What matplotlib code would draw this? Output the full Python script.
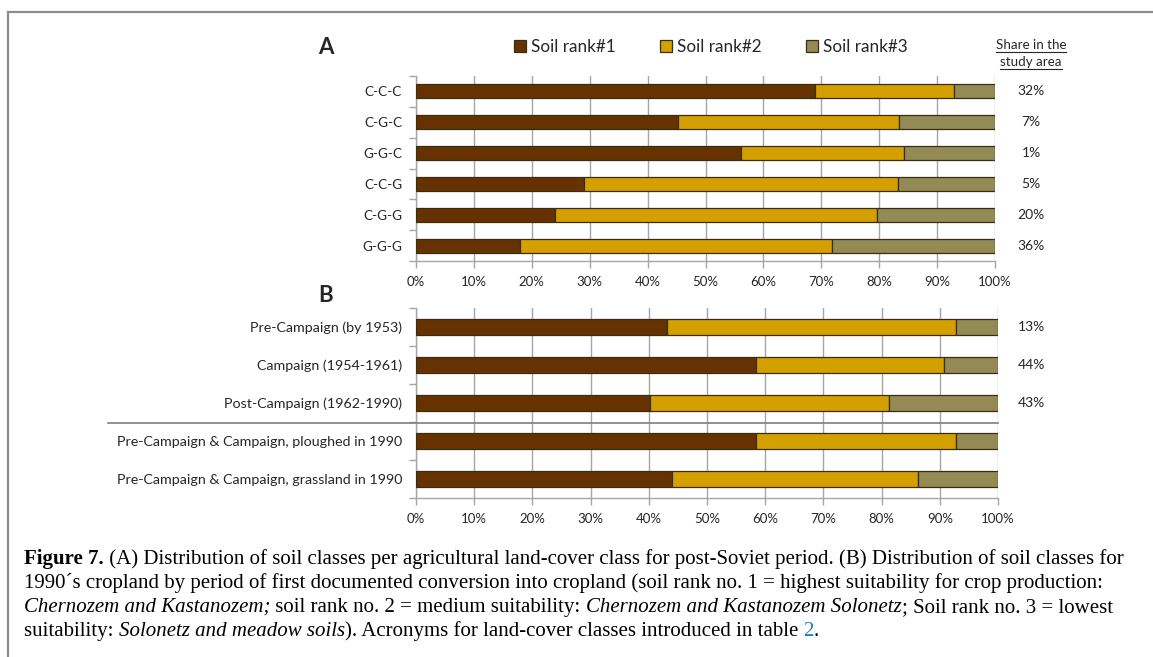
import matplotlib
matplotlib.use("Agg")
import matplotlib.pyplot as plt
from matplotlib.patches import Patch
from matplotlib.lines import Line2D
import numpy as np

plt.rcParams['font.family'] = ['Lato', 'DejaVu Sans']

# panel A: land-cover trajectories
cats_a = ["C-C-C", "C-G-C", "G-G-C", "C-C-G", "C-G-G", "G-G-G"]
rank1_a = [68.9, 45.3, 56.1, 29.1, 24.0, 17.9]
rank2_a = [24.1, 38.1, 28.2, 54.2, 55.7, 53.9]
rank3_a = [7.0, 16.6, 15.7, 16.7, 20.3, 28.2]
share_a = ["32%", "7%", "1%", "5%", "20%", "36%"]

# panel B: period of first conversion
cats_b = ["Pre-Campaign (by 1953)", "Campaign (1954-1961)", "Post-Campaign (1962-1990)",
          "Pre-Campaign & Campaign, ploughed in 1990", "Pre-Campaign & Campaign, grassland in 1990"]
rank1_b = [43.1, 58.4, 40.2, 58.4, 44.0]
rank2_b = [49.6, 32.4, 41.1, 34.3, 42.2]
rank3_b = [7.3, 9.2, 18.7, 7.3, 13.8]
share_b = ["13%", "44%", "43%"]

ticks = np.arange(0, 101, 10)
tick_labels = [f"{t}%" for t in ticks]
series_names = ["Soil rank#1", "Soil rank#2", "Soil rank#3"]
colors = ["#663300", "#D4A000", "#948A54"]
edge = "#3b2c14"
grid_c = "#a6a6a6"
txt_c = "#262626"

W, H = 1153, 657
fig = plt.figure(figsize=(W / 100, H / 100), dpi=100)


def fx(px):
    return px / W


def fy(py):
    return 1 - py / H


def stacked(ax, cats, r1, r2, r3, height, fs):
    y = np.arange(len(cats))
    left = np.zeros(len(cats))
    for vals, c in zip([r1, r2, r3], colors):
        ax.barh(y, vals, left=left, height=height, color=c, edgecolor=edge,
                linewidth=0.9, zorder=3)
        left = left + np.array(vals)
    ax.set_xlim(0, 100)
    ax.set_ylim(len(cats) - 0.5, -0.5)
    ax.set_xticks(ticks)
    ax.set_xticklabels(tick_labels, fontsize=9.5, color=txt_c)
    ax.set_yticks(y)
    ax.set_yticklabels(cats, fontsize=fs, color=txt_c)
    ax.set_yticks(np.arange(len(cats) + 1) - 0.5, minor=True)
    ax.tick_params(axis='y', which='major', length=0, pad=10)
    ax.tick_params(axis='y', which='minor', length=5, color=grid_c, width=1)
    ax.tick_params(axis='x', length=5, color=grid_c, width=1, pad=6)
    ax.xaxis.grid(True, color=grid_c, linewidth=1, zorder=0)
    ax.set_axisbelow(True)
    for s in ["top", "right"]:
        ax.spines[s].set_visible(False)
    for s in ["left", "bottom"]:
        ax.spines[s].set_color(grid_c)
        ax.spines[s].set_linewidth(1)


# panel A
ax_a = fig.add_axes([fx(416), fy(261), fx(995 - 416), (261 - 76) / H])
stacked(ax_a, cats_a, rank1_a, rank2_a, rank3_a, 0.45, 9.7)
tr_a = matplotlib.transforms.blended_transform_factory(fig.transFigure, ax_a.transData)
for i, s in enumerate(share_a):
    ax_a.text(fx(1031), i, s, transform=tr_a, fontsize=10, ha='center', va='center', color=txt_c)

# panel B
ax_b = fig.add_axes([fx(416), fy(498), fx(998 - 416), (498 - 308) / H])
stacked(ax_b, cats_b, rank1_b, rank2_b, rank3_b, 0.4, 10.3)
tr_b = matplotlib.transforms.blended_transform_factory(fig.transFigure, ax_b.transData)
for i, s in enumerate(share_b):
    ax_b.text(fx(1031), i, s, transform=tr_b, fontsize=10, ha='center', va='center', color=txt_c)

# separator between the two groups in B
fig.add_artist(Line2D([fx(108), fx(998)], [fy(423), fy(423)], color="#7f7f7f", linewidth=1.2))

# panel letters
fig.text(fx(326), fy(47), "A", fontsize=16, fontweight='bold', ha='center', va='center', color=txt_c)
fig.text(fx(326), fy(296), "B", fontsize=16, fontweight='bold', ha='center', va='center', color=txt_c)

# legend
handles = [Patch(facecolor=c, edgecolor=edge, linewidth=0.9) for c in colors]
fig.legend(handles, series_names, loc='center', bbox_to_anchor=(fx(711), fy(47)), ncol=3,
           frameon=False, fontsize=12.3, handlelength=0.7, handleheight=0.7,
           handletextpad=0.3, columnspacing=2.6, labelcolor=txt_c)

# share column header
for yy, s in [(45, "Share in the"), (62, "study area")]:
    t = fig.text(fx(1031), fy(yy), s, fontsize=9.6, ha='center', va='center', color=txt_c)
fig.canvas.draw()
r = fig.canvas.get_renderer()
for t in fig.texts[-2:]:
    bb = t.get_window_extent(r)
    fig.add_artist(Line2D([bb.x0 / W, bb.x1 / W], [(bb.y0 - 1) / H, (bb.y0 - 1) / H],
                          color=txt_c, linewidth=0.8))

# frame lines
fig.add_artist(Line2D([fx(8), 1], [fy(12), fy(12)], color="#8c8c8c", linewidth=1.6))
fig.add_artist(Line2D([fx(8), fx(8)], [fy(12), 0], color="#8c8c8c", linewidth=1.6))

# caption, drawn run by run so bold / italic / colour can be mixed
cap_fs = 15
serif = ['Liberation Serif', 'DejaVu Serif']
caption = [
    [("Figure 7.", 'bold', 'normal', 'black'),
     (" (A) Distribution of soil classes per agricultural land-cover class for post-Soviet period. (B) Distribution of soil classes for", 'normal', 'normal', 'black')],
    [("1990\u00b4s cropland by period of first documented conversion into cropland (soil rank no. 1 = highest suitability for crop production:", 'normal', 'normal', 'black')],
    [("Chernozem and Kastanozem;", 'normal', 'italic', 'black'),
     (" soil rank no. 2 = medium suitability: ", 'normal', 'normal', 'black'),
     ("Chernozem and Kastanozem Solonetz", 'normal', 'italic', 'black'),
     ("; Soil rank no. 3 = lowest", 'normal', 'normal', 'black')],
    [("suitability: ", 'normal', 'normal', 'black'),
     ("Solonetz and meadow soils", 'normal', 'italic', 'black'),
     ("). Acronyms for land-cover classes introduced in table ", 'normal', 'normal', 'black'),
     ("2", 'normal', 'normal', '#1f7fc0'),
     (".", 'normal', 'normal', 'black')],
]
baselines = [564, 588, 612, 636]
for runs, yb in zip(caption, baselines):
    x = 24
    for s, wgt, sty, col in runs:
        t = fig.text(fx(x), fy(yb), s, fontsize=cap_fs, family=serif, fontweight=wgt,
                     fontstyle=sty, color=col, ha='left', va='baseline')
        x += t.get_window_extent(r).width

fig.savefig("out.png", dpi=100)
